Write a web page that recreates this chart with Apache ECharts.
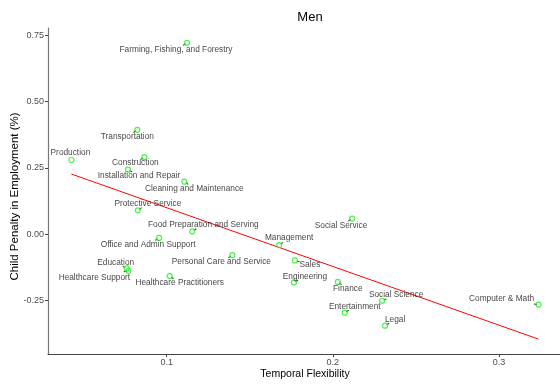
<!DOCTYPE html>
<html>
<head>
<meta charset="utf-8">
<script src="https://cdn.jsdelivr.net/npm/echarts@6/dist/echarts.min.js"></script>
<style>html,body{margin:0;padding:0;background:#fff;}#c{width:560px;height:385px;}</style>
</head>
<body>
<div id="c"></div>
<script>
const occupations = ["Farming, Fishing, and Forestry","Transportation","Production","Construction","Installation and Repair","Cleaning and Maintenance","Protective Service","Food Preparation and Serving","Office and Admin Support","Education","Healthcare Support","Healthcare Practitioners","Personal Care and Service","Management","Social Service","Sales","Engineering","Finance","Social Science","Entertainment","Legal","Computer & Math"];
const flexibility = [0.1122,0.0823,0.0426,0.0865,0.0767,0.1106,0.0826,0.1154,0.0954,0.0759,0.0769,0.1018,0.1395,0.1677,0.2116,0.1772,0.1766,0.2030,0.2297,0.2072,0.2315,0.3239];
const penalty = [0.722,0.394,0.280,0.291,0.2435,0.198,0.090,0.011,-0.014,-0.129,-0.138,-0.158,-0.079,-0.041,0.059,-0.099,-0.182,-0.180,-0.251,-0.296,-0.345,-0.266];
const trendX = [0.0426, 0.3239];
const trendY = [0.227, -0.396];
const xTicks = [0.1, 0.2, 0.3];
const yTicks = [-0.25, 0, 0.25, 0.5, 0.75];
const chartTitle = 'Men';
const xTitle = 'Temporal Flexibility';
const yTitle = 'Child Penalty in Employment (%)';

// label layout offsets (pixels, text centre relative to point)
const labelOffsets = [[-11,7],[-10,7],[-1,-7],[-9,6],[11,6],[10,7],[10,-7],[11,-7],[-11,7],[-11,-6],[-34,7],[10,7],[-11,7],[10,-7],[-11,7],[15,4],[11,-6],[10,7],[14,-6],[10,-6],[10,-6],[-37,-6]];
const segmentShown = occupations.map(n => n !== 'Production');

const pts = occupations.map((n,i)=>({
  name:n, value:[flexibility[i], penalty[i]],
  label:{offset:labelOffsets[i]}
}));

const segs = [];
occupations.forEach((n,i)=>{
  if(!segmentShown[i]) return;
  const [dx,dy] = labelOffsets[i];
  const L = Math.hypot(dx,dy);
  const ux = dx/L, uy = dy/L;
  segs.push({value:[flexibility[i], penalty[i]],
    symbolRotate: Math.atan2(-uy, ux)*180/Math.PI,
    symbolOffset:[ux*3.2, uy*3.2]});
});

const chart = echarts.init(document.getElementById('c'), null, {renderer:'canvas'});
const F = 'Liberation Sans, Arial, sans-serif';
chart.setOption({
  animation:false,
  title:{text:chartTitle, left:305, top:6, textAlign:'center', textStyle:{fontFamily:F, fontSize:13, fontWeight:'normal', color:'#000'}},
  graphic:[{type:'text', x:15, y:196.5, rotation:Math.PI/2,
    style:{text:yTitle, align:'center', verticalAlign:'middle', fontFamily:F, fontSize:11.5, fill:'#000'}}],
  grid:{left:48, right:-2, top:28, bottom:31, outerBoundsMode:'none', containLabel:false},
  xAxis:{type:'value', min:0.0285, max:0.338,
    name:xTitle, nameLocation:'middle', nameGap:15, nameMoveOverlap:false,
    nameTextStyle:{fontFamily:F, fontSize:10.5, color:'#000'},
    axisLine:{show:true, onZero:false, lineStyle:{color:'#444', width:1.2}},
    axisTick:{show:true, length:3, customValues:xTicks, lineStyle:{color:'#444'}},
    axisLabel:{customValues:xTicks, fontFamily:F, fontSize:9, color:'#4d4d4d', margin:4, formatter:v=>v.toFixed(1)},
    splitLine:{show:false}},
  yAxis:{type:'value', min:-0.452, max:0.778,
    axisLine:{show:true, onZero:false, lineStyle:{color:'#777', width:1.2}},
    axisTick:{show:true, length:3, customValues:yTicks, lineStyle:{color:'#444'}},
    axisLabel:{customValues:yTicks, fontFamily:F, fontSize:9, color:'#4d4d4d', margin:4, formatter:v=>v.toFixed(2)},
    splitLine:{show:false}},
  series:[
    {type:'line', data:trendX.map((x,i)=>[x,trendY[i]]), symbol:'none', lineStyle:{color:'#ff0000', width:1}, z:1},
    {type:'scatter', data:segs, symbol:'rect', symbolSize:[3,1], itemStyle:{color:'#000'}, silent:true, z:2},
    {type:'scatter', data:pts, symbol:'circle', symbolSize:5,
      itemStyle:{color:'rgba(0,0,0,0)', borderColor:'#22ee22', borderWidth:1.2},
      label:{show:true, position:'inside', formatter:p=>p.name, fontFamily:F, fontSize:8.3, color:'#111'}, z:3}
  ]
});
</script>
</body>
</html>
